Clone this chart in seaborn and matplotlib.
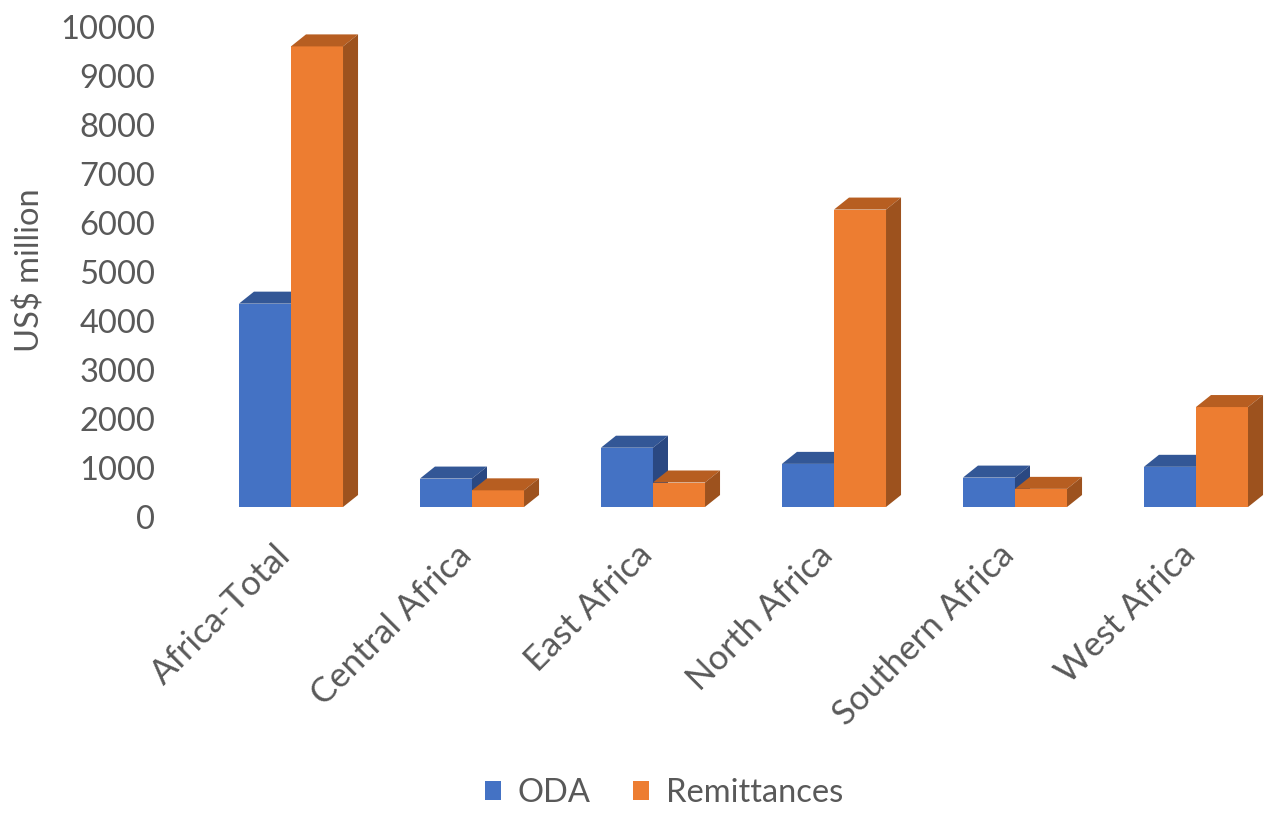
import numpy as np
import pandas as pd
import matplotlib
matplotlib.use('Agg')
import matplotlib.pyplot as plt
import seaborn as sns
from matplotlib.patches import Polygon, Patch
from matplotlib.transforms import ScaledTranslation

#   Data (US$ million)
regions = ['Africa-Total', 'Central Africa', 'East Africa', 'North Africa',
           'Southern Africa', 'West Africa']
oda = [4150, 580, 1210, 880, 600, 820]
remittances = [9400, 340, 500, 6070, 370, 2040]
flows = ['ODA', 'Remittances']

#   Colours: front, top, side faces
front = {'ODA': '#4472C4', 'Remittances': '#ED7D31'}
topc = {'ODA': '#335796', 'Remittances': '#B75E21'}
sidec = {'ODA': '#2A4882', 'Remittances': '#9D521E'}
grey = '#595959'

df = pd.DataFrame({'Region': regions * 2,
                   'Flow': ['ODA'] * len(regions) + ['Remittances'] * len(regions),
                   'Value': oda + remittances})

sns.set_theme(style='white')
plt.rcParams['font.family'] = ['Lato', 'DejaVu Sans']

fig = plt.figure(figsize=(12.81, 8.15), dpi=100)
ax = fig.add_axes([165 / 1281, (815 - 507) / 815, 1105 / 1281, 490 / 815])

sns.barplot(data=df, x='Region', y='Value', hue='Flow', hue_order=flows,
            palette=front, width=0.575, gap=0, saturation=1, legend=False,
            errorbar=None, linewidth=0, ax=ax)

#   fake 3D depth: top and side faces
dx = 0.083
dy = 245
for i, cont in enumerate(ax.containers):
    flow = flows[i]
    z = 2 + i
    for bar in cont:
        bar.set_zorder(z)
        x0 = bar.get_x()
        w = bar.get_width()
        h = bar.get_height()
        top = Polygon([(x0, h), (x0 + dx, h + dy), (x0 + w + dx, h + dy), (x0 + w, h)],
                      closed=True, facecolor=topc[flow], edgecolor='none',
                      zorder=z + 0.1, clip_on=False)
        side = Polygon([(x0 + w, 0), (x0 + w, h), (x0 + w + dx, h + dy), (x0 + w + dx, dy)],
                       closed=True, facecolor=sidec[flow], edgecolor='none',
                       zorder=z + 0.1, clip_on=False)
        ax.add_patch(top)
        ax.add_patch(side)

ax.set_xlim(-0.696, 5.409)
ax.set_ylim(0, 10000)
ax.set_yticks(range(0, 10001, 1000))
ax.set_xlabel('')
ax.set_ylabel('US$ million', fontsize=23.5, color=grey)
ax.yaxis.set_label_coords(-0.108, 0.484)
sns.despine(ax=ax, left=True, bottom=True)
ax.tick_params(axis='y', length=0, pad=7, labelsize=23.5, labelcolor=grey)
ax.tick_params(axis='x', length=0, pad=31, labelsize=25, labelcolor=grey)
for lab in ax.get_xticklabels():
    lab.set_rotation(45)
    lab.set_ha('right')
    lab.set_va('center')
    lab.set_rotation_mode('anchor')
    lab.set_transform(lab.get_transform() + ScaledTranslation(-6 / 100, 0, fig.dpi_scale_trans))
#   shift y labels down a little, like the 3D wall in the original
for lab in ax.get_yticklabels():
    lab.set_transform(lab.get_transform() + ScaledTranslation(0, -10 / 100, fig.dpi_scale_trans))

handles = [Patch(facecolor=front[f], edgecolor='none') for f in flows]
fig.legend(handles, flows, loc='center', bbox_to_anchor=(664 / 1281, 22 / 815),
           ncol=2, frameon=False, fontsize=23.5, labelcolor=grey,
           handlelength=0.5, handleheight=0.5, handletextpad=0.5,
           columnspacing=1.3)

plt.savefig('out.png', dpi=100)
